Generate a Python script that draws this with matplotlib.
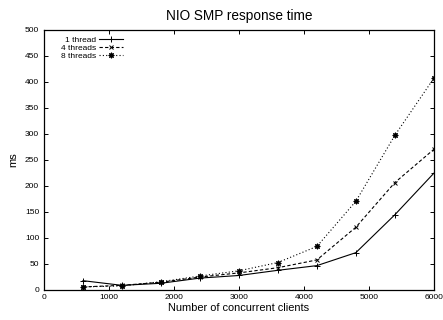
import matplotlib
matplotlib.use("Agg")
import matplotlib.pyplot as plt

# Datos (clientes concurrentes vs tiempo de respuesta en ms)
clientes = [600, 1200, 1800, 2400, 3000, 3600, 4200, 4800, 5400, 6000]
hilos_1 = [17, 8, 12, 22, 27, 37, 46, 71, 144, 224]
hilos_4 = [5, 8, 14, 24, 32, 42, 57, 120, 206, 270]
hilos_8 = [5, 7, 15, 26, 36, 52, 83, 170, 297, 407]

etiquetas = ["1 thread", "4 threads", "8 threads"]
x_ticks = [0, 1000, 2000, 3000, 4000, 5000, 6000]
y_ticks = list(range(0, 501, 50))

plt.rcParams["font.family"] = ["Liberation Sans", "DejaVu Sans"]

fig = plt.figure(figsize=(4.43, 3.2), dpi=100)
ax = fig.add_axes([0.0993, 0.0953, 0.880, 0.811])

asterisco = (8, 2, 0)  # marcador tipo gnuplot (+ y x juntos)
ax.plot(clientes, hilos_1, color="black", linestyle="-", linewidth=0.8,
        marker="+", markersize=4, markeredgewidth=0.7, label=etiquetas[0])
ax.plot(clientes, hilos_4, color="black", linestyle=(0, (3, 2)), linewidth=0.8,
        marker="x", markersize=3.5, markeredgewidth=0.7, label=etiquetas[1])
ax.plot(clientes, hilos_8, color="black", linestyle=(0, (1, 2)), linewidth=0.8,
        marker=asterisco, markersize=4, markeredgewidth=0.8, label=etiquetas[2])

ax.set_xlim(0, 6000)
ax.set_ylim(0, 500)
ax.set_xticks(x_ticks)
ax.set_yticks(y_ticks)
ax.tick_params(direction="in", top=True, right=True, length=3, width=0.7,
               labelsize=6)
ax.tick_params(axis="x", pad=3.5)
ax.tick_params(axis="y", pad=3.5)
for s in ax.spines.values():
    s.set_linewidth(0.9)

ax.set_title("NIO SMP response time", fontsize=9.8, pad=7)
ax.set_xlabel("Number of concurrent clients", fontsize=7.9, labelpad=1)
ax.set_ylabel("ms", fontsize=7.9, labelpad=5)

ax.legend(loc="upper left", markerfirst=False, frameon=False, fontsize=6,
          handlelength=2.9, handletextpad=0.4, labelspacing=0.05,
          borderaxespad=0.3, bbox_to_anchor=(0.028, 1.0))

fig.savefig("out.png", dpi=100)
